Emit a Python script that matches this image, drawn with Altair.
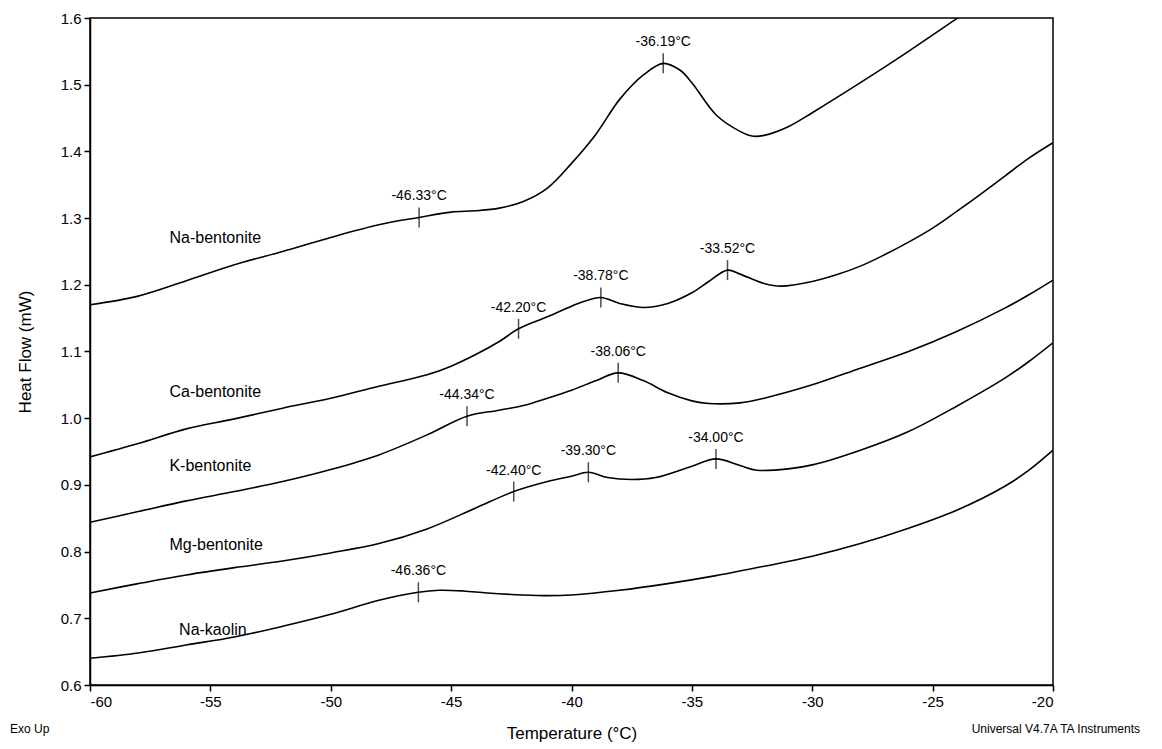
import altair as alt
import pandas as pd

# ---- curve data (Temperature °C, Heat Flow mW) ----
na_bent_x = [-60, -58, -56, -54, -52, -50, -48, -46.33, -45, -44, -43, -42, -41, -40, -39, -38, -37, -36.19, -35.5, -35, -34, -33, -32.5, -32, -31, -30, -28, -26, -24, -23.5]
na_bent_y = [1.170, 1.183, 1.206, 1.230, 1.250, 1.271, 1.290, 1.301, 1.309, 1.311, 1.315, 1.325, 1.345, 1.382, 1.425, 1.478, 1.515, 1.532, 1.522, 1.503, 1.455, 1.430, 1.423, 1.424, 1.437, 1.458, 1.503, 1.550, 1.599, 1.611]

ca_bent_x = [-60, -58, -56, -54, -52, -50, -48, -46, -45, -44, -43, -42.2, -41, -40, -39.5, -38.78, -38, -37, -36, -35, -34.3, -33.52, -33, -32, -31.3, -30, -29, -28, -27, -26, -25, -24, -23, -22, -21, -20]
ca_bent_y = [0.942, 0.962, 0.984, 0.999, 1.015, 1.030, 1.048, 1.065, 1.078, 1.095, 1.115, 1.134, 1.152, 1.168, 1.175, 1.181, 1.172, 1.166, 1.172, 1.188, 1.205, 1.222, 1.216, 1.202, 1.198, 1.205, 1.215, 1.228, 1.245, 1.264, 1.285, 1.310, 1.336, 1.363, 1.390, 1.413]

k_bent_x = [-60, -58, -56, -54, -52, -50, -48, -46, -44.34, -43, -42, -41, -40, -39, -38.06, -37, -36, -35, -34.3, -33, -32, -30, -28, -26, -24, -22, -21, -20]
k_bent_y = [0.844, 0.860, 0.876, 0.890, 0.905, 0.923, 0.945, 0.975, 1.003, 1.012, 1.019, 1.030, 1.042, 1.056, 1.068, 1.056, 1.038, 1.026, 1.022, 1.023, 1.030, 1.050, 1.075, 1.100, 1.130, 1.165, 1.185, 1.207]

mg_bent_x = [-60, -58, -56, -54, -52, -50, -48, -46, -44, -42.4, -41, -40, -39.3, -38.5, -37.5, -36.5, -35, -34, -33, -32.3, -31, -30, -28, -26, -24, -22, -21, -20]
mg_bent_y = [0.738, 0.752, 0.765, 0.776, 0.786, 0.798, 0.812, 0.834, 0.865, 0.890, 0.905, 0.913, 0.919, 0.911, 0.908, 0.911, 0.928, 0.939, 0.929, 0.922, 0.924, 0.930, 0.952, 0.980, 1.018, 1.060, 1.085, 1.113]

na_kao_x = [-60, -58, -56, -54, -52, -50, -48, -46.36, -45.5, -44.5, -43.5, -42, -41, -40, -38, -36, -34, -32, -30, -28, -26, -24, -22, -21, -20]
na_kao_y = [0.640, 0.648, 0.660, 0.672, 0.688, 0.706, 0.727, 0.739, 0.742, 0.741, 0.738, 0.735, 0.734, 0.735, 0.742, 0.752, 0.764, 0.778, 0.793, 0.812, 0.835, 0.862, 0.898, 0.922, 0.952]

series_names = ["Na-bentonite", "Ca-bentonite", "K-bentonite", "Mg-bentonite", "Na-kaolin"]

# ---- peak / onset markers ----
ann_x = [-46.33, -36.19, -42.20, -38.78, -33.52, -44.34, -38.06, -42.40, -39.30, -34.00, -46.36]
ann_y = [1.301, 1.532, 1.134, 1.181, 1.222, 1.003, 1.068, 0.890, 0.919, 0.939, 0.739]
ann_text = ["-46.33°C", "-36.19°C", "-42.20°C", "-38.78°C", "-33.52°C", "-44.34°C",
            "-38.06°C", "-42.40°C", "-39.30°C", "-34.00°C", "-46.36°C"]

# ---- series labels ----
lab_x = [-56.7, -56.7, -56.7, -56.7, -56.3]
lab_y = [1.270, 1.039, 0.928, 0.810, 0.682]

x_ticks = [-60, -55, -50, -45, -40, -35, -30, -25, -20]
y_ticks = [0.6, 0.7, 0.8, 0.9, 1.0, 1.1, 1.2, 1.3, 1.4, 1.5, 1.6]

FONT = "Liberation Sans"

rows = []
for name, xs, ys in zip(series_names,
                        [na_bent_x, ca_bent_x, k_bent_x, mg_bent_x, na_kao_x],
                        [na_bent_y, ca_bent_y, k_bent_y, mg_bent_y, na_kao_y]):
    for i, (a, b) in enumerate(zip(xs, ys)):
        rows.append({"series": name, "T": a, "HF": b, "order": i})
curves = pd.DataFrame(rows)
ann = pd.DataFrame({"T": ann_x, "HF": ann_y, "label": ann_text})
labs = pd.DataFrame({"T": lab_x, "HF": lab_y, "label": series_names})

xscale = alt.Scale(domain=[-60, -20], nice=False, zero=False)
yscale = alt.Scale(domain=[0.6, 1.6], nice=False, zero=False)

xenc = alt.X("T:Q", scale=xscale,
             axis=alt.Axis(values=x_ticks, title="Temperature (°C)",
                           labelExpr="'' + datum.value", titlePadding=16))
yenc = alt.Y("HF:Q", scale=yscale,
             axis=alt.Axis(values=y_ticks, title="Heat Flow (mW)",
                           labelExpr="format(datum.value, '.1f')", titlePadding=26))

lines = alt.Chart(curves).mark_line(
    color="black", strokeWidth=1.6, interpolate="catmull-rom", clip=True
).encode(x=xenc, y=yenc, detail="series:N", order="order:Q")

ticks = alt.Chart(ann).mark_tick(
    orient="vertical", color="black", size=20, thickness=1.5
).encode(x="T:Q", y="HF:Q")

ann_text_layer = alt.Chart(ann).mark_text(
    font=FONT, fontSize=14, color="black", dy=-21, baseline="middle", align="center"
).encode(x="T:Q", y="HF:Q", text="label:N")

lab_layer = alt.Chart(labs).mark_text(
    font=FONT, fontSize=16, color="black", align="left", baseline="middle"
).encode(x="T:Q", y="HF:Q", text="label:N")

foot_left = alt.Chart(pd.DataFrame({"t": ["Exo Up"]})).mark_text(
    font=FONT, fontSize=12, color="black", align="left", baseline="middle"
).encode(x=alt.value(-80), y=alt.value(711), text="t:N")

foot_right = alt.Chart(pd.DataFrame({"t": ["Universal V4.7A TA Instruments"]})).mark_text(
    font=FONT, fontSize=12, color="black", align="right", baseline="middle"
).encode(x=alt.value(1050), y=alt.value(711), text="t:N")

chart = alt.layer(lines, ticks, ann_text_layer, lab_layer, foot_left, foot_right).properties(
    width=963, height=667,
    autosize=alt.AutoSizeParams(type="none"),
    padding={"left": 82, "top": 10, "right": 100, "bottom": 62},
    background="white",
).configure_view(
    stroke="black", strokeWidth=1.5
).configure_axis(
    grid=False,
    domainColor="black", domainWidth=1.5,
    tickColor="black", tickWidth=1.5, tickSize=6,
    labelFont=FONT, labelFontSize=15, labelColor="black", labelPadding=3,
    titleFont=FONT, titleFontSize=17, titleFontWeight="normal", titleColor="black",
)

chart.save("out.html", embed_options={"renderer": "svg", "actions": False})
